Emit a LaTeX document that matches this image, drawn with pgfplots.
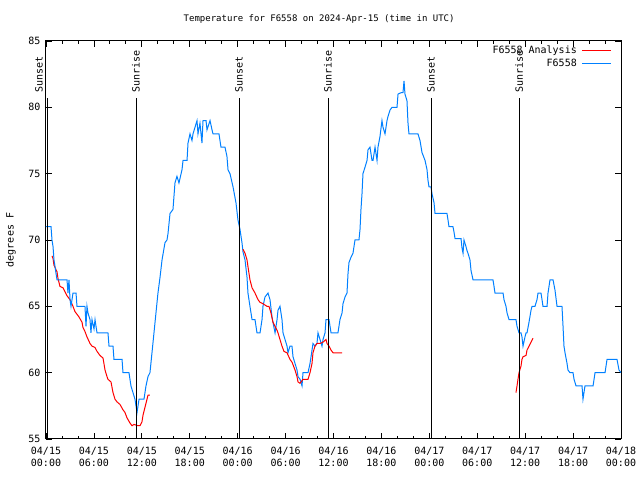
\documentclass[border=0pt]{standalone}
\usepackage{pgfplots}
\pgfplotsset{compat=1.18}
\usepackage{fontspec}
\setmainfont{DejaVu Sans Mono}
\definecolor{gpred}{RGB}{255,0,0}
\definecolor{gpblue}{RGB}{0,128,255}
\begin{document}
\begin{tikzpicture}
\useasboundingbox (-46bp,-41bp) rectangle (594bp,439bp);
\begin{axis}[
  at={(0,0)}, anchor=south west,
  width=575bp, height=398bp, scale only axis,
  clip mode=individual,
  xmin=0, xmax=72, ymin=55, ymax=85,
  xtick={0,6,...,72},
  xticklabels={{04/15\\00:00},{04/15\\06:00},{04/15\\12:00},{04/15\\18:00},{04/16\\00:00},{04/16\\06:00},{04/16\\12:00},{04/16\\18:00},{04/17\\00:00},{04/17\\06:00},{04/17\\12:00},{04/17\\18:00},{04/18\\00:00}},
  minor x tick num=2,
  ytick={55,60,...,85},
  tick align=inside,
  major tick length=6bp, minor tick length=3bp,
  xtick pos=both, ytick pos=both,
  axis line style={black, line width=1bp},
  every tick/.style={black, line width=0.8bp},
  /pgf/number format/assume math mode=true,
  tick label style={font=\fontsize{10bp}{12bp}\selectfont},
  xticklabel style={align=center, yshift=-5bp},
  yticklabel style={xshift=-2bp},
  title={Temperature for F6558 on 2024-Apr-15 (time in UTC)},
  title style={font=\fontsize{9bp}{11bp}\selectfont, at={(axis description cs:0.475,1)}, yshift=8bp},
  ylabel={degrees F},
  ylabel style={font=\fontsize{10bp}{12bp}\selectfont, at={(axis description cs:-0.061,0.5)}, anchor=center},
  legend style={draw=none, fill=none, at={(rel axis cs:1,1)}, anchor=north east, xshift=-8bp, yshift=-2bp, font=\fontsize{10bp}{12bp}\selectfont, row sep=0bp, column sep=3bp, inner sep=1bp},
  legend cell align=right,
  legend plot pos=right,
  legend image code/.code={\draw[#1] (0bp,0bp) -- (29bp,0bp);},
]
% Analysis (red), three segments
\addplot[gpred, line width=1bp] coordinates {
(0.75,68.8) (0.88,68.6) (1.00,68.1) (1.38,67.6) (1.50,67.1) (1.75,66.5) (2.13,66.4) (2.63,65.8) (3.01,65.5) (3.38,65) (3.63,64.6) (3.88,64.4) (4.13,64.2) (4.51,63.8) (4.63,63.4) (4.88,63.1) (5.13,62.7) (5.51,62.2) (5.76,62) (6.14,61.9) (6.39,61.6) (6.76,61.3) (7.14,61.1) (7.39,60.2) (7.64,59.7) (7.76,59.5) (8.14,59.3) (8.39,58.5) (8.64,58) (8.89,57.8) (9.27,57.6) (9.64,57.2) (9.89,57) (10.14,56.6) (10.52,56.2) (10.77,56) (11.02,56.1) (11.52,56) (11.77,56) (12.02,56.3) (12.15,56.8) (12.40,57.4) (12.65,58) (12.77,58.3) (13.02,58.3)
};
\addlegendentry{F6558 Analysis}
\addplot[gpblue, line width=1bp] coordinates {
(0,71) (0.63,71) (0.75,70) (0.88,69.5) (1.00,68.5) (1.13,68) (1.25,67.5) (1.38,67) (2.63,67) (2.75,66) (2.88,67) (3.01,65.5) (3.13,65) (3.38,66) (3.76,66) (3.88,65) (4.88,65) (5.01,63.5) (5.13,65) (5.26,64.5) (5.51,64) (5.63,63) (5.76,64) (6.01,63.3) (6.14,64) (6.26,63.5) (6.39,63) (7.76,63) (7.89,62) (8.39,62) (8.51,61) (9.52,61) (9.64,60) (10.39,60) (10.64,59) (10.89,58.5) (11.14,58) (11.40,57) (11.65,58) (12.27,58) (12.52,59) (12.77,59.7) (13.02,60) (13.27,61.5) (13.52,63) (13.77,64.5) (14.02,66) (14.28,67.2) (14.53,68.5) (14.90,69.8) (15.15,70) (15.28,70.5) (15.53,72) (15.90,72.3) (16.15,74.3) (16.40,74.8) (16.65,74.3) (17.03,75.3) (17.16,76) (17.66,76) (17.78,77.3) (18.03,78) (18.28,77.5) (18.41,78) (18.66,78.5) (18.91,79) (19.03,78) (19.28,78.8) (19.53,77.3) (19.66,79) (20.04,79) (20.16,78.3) (20.54,79) (20.79,78.3) (20.91,78) (21.66,78) (21.91,77) (22.41,77) (22.66,76.3) (22.79,75.3) (23.04,75) (23.42,74) (23.79,72.8) (24.04,71.5) (24.29,70.8) (24.54,69.8) (24.67,69.1) (24.92,68.5) (25.17,67.2) (25.29,66) (25.54,65) (25.80,64) (26.17,64) (26.42,63) (26.80,63) (27.05,64) (27.17,65) (27.42,65.7) (27.80,66) (28.05,65.5) (28.30,64.2) (28.42,63.8) (28.68,63) (28.93,64) (29.05,64.7) (29.30,65) (29.55,64) (29.68,63) (29.93,62.5) (30.18,62) (30.30,61.5) (30.55,62) (30.80,62) (30.93,61.2) (31.18,60.7) (31.43,60.2) (31.56,59.7) (31.81,59.5) (32.06,59) (32.18,60) (32.81,60) (33.06,60.7) (33.31,61.7) (33.43,62.2) (33.68,62) (33.93,62.2) (34.06,63) (34.31,62.5) (34.56,62) (34.69,62.5) (34.94,63) (35.06,64) (35.44,64) (35.69,63) (36.56,63) (36.81,64) (37.07,64.5) (37.19,65.2) (37.44,65.7) (37.69,66) (37.82,67.5) (37.94,68.3) (38.19,68.7) (38.44,69) (38.69,70) (39.19,70) (39.32,70.8) (39.44,72.3) (39.57,73.5) (39.69,75) (39.95,75.5) (40.20,76) (40.32,76.8) (40.57,77) (40.82,76) (40.95,76) (41.20,77) (41.45,76) (41.57,77) (41.82,77.8) (42.07,79) (42.20,78.5) (42.45,78) (42.70,79) (42.82,79.3) (43.08,79.8) (43.33,80) (43.95,80) (44.08,81) (44.45,81.1) (44.70,81.1) (44.83,82) (44.95,81) (45.20,80.5) (45.33,78.8) (45.45,78) (46.58,78) (46.83,77.5) (47.08,76.6) (47.46,76) (47.71,75.3) (47.83,74.5) (47.96,74) (48.21,74) (48.33,73.5) (48.59,72.8) (48.71,72) (50.21,72) (50.34,71.5) (50.46,71) (50.96,71) (51.09,70.6) (51.22,70.1) (51.97,70.1) (52.09,69.4) (52.22,69) (52.34,70) (52.59,69.5) (52.72,69.2) (52.84,69) (53.09,68.5) (53.22,67.7) (53.47,67) (55.97,67) (56.10,66.5) (56.22,66) (57.23,66) (57.35,65.5) (57.60,65) (57.73,64.5) (57.98,64) (58.85,64) (58.98,63.5) (59.23,63) (59.48,63) (59.60,62.7) (59.73,62) (59.98,62.7) (60.11,63) (60.23,63) (60.48,63.8) (60.73,64.7) (60.86,65) (61.23,65) (61.48,65.5) (61.61,66) (61.98,66) (62.11,65.5) (62.23,65) (62.74,65) (62.86,66) (63.11,67) (63.49,67) (63.74,66.2) (63.99,65) (64.61,65) (64.74,63.5) (64.86,62) (64.99,61.5) (65.24,60.7) (65.36,60.2) (65.61,60) (65.99,60) (66.12,59.5) (66.37,59) (67.12,59) (67.24,58) (67.49,59) (68.50,59) (68.75,60) (70.00,60) (70.25,61) (71.50,61) (71.75,60.2) (72.00,60)
};
\addlegendentry{F6558}
\addplot[gpred, line width=1bp, forget plot] coordinates {
(24.67,69.3) (24.92,69) (25.17,68.5) (25.29,68) (25.54,67) (25.80,66.4) (26.17,66) (26.55,65.5) (26.80,65.3) (27.17,65.2) (27.67,65) (27.92,65) (28.17,64.5) (28.42,63.8) (28.93,63.2) (29.05,63) (29.30,62.5) (29.55,62) (29.80,61.6) (30.18,61.5) (30.55,61) (30.80,60.8) (30.93,60.6) (31.18,60.2) (31.43,59.7) (31.56,59.3) (31.81,59.2) (32.18,59.5) (32.81,59.5) (33.06,60) (33.31,60.7) (33.43,61.5) (33.68,62) (33.93,62.2) (34.31,62.2) (34.69,62.3) (35.06,62.5) (35.19,62.2) (35.44,62) (35.69,61.7) (35.94,61.5) (37.07,61.5)
};
\addplot[gpred, line width=1bp, forget plot] coordinates {
(58.85,58.5) (58.98,59) (59.10,59.5) (59.23,60) (59.48,60.5) (59.60,61) (59.73,61.2) (60.11,61.3) (60.23,61.7) (60.48,62) (60.73,62.3) (60.98,62.6)
};
% Sunrise / sunset markers
\addplot[black, line width=0.9bp, forget plot] coordinates {(0.13,55) (0.13,80.7)};
\addplot[black, line width=0.9bp, forget plot] coordinates {(11.27,55) (11.27,80.7)};
\addplot[black, line width=0.9bp, forget plot] coordinates {(24.17,55) (24.17,80.7)};
\addplot[black, line width=0.9bp, forget plot] coordinates {(35.31,55) (35.31,80.7)};
\addplot[black, line width=0.9bp, forget plot] coordinates {(48.21,55) (48.21,80.7)};
\addplot[black, line width=0.9bp, forget plot] coordinates {(59.23,55) (59.23,80.7)};
\begin{scope}[every node/.style={rotate=90, anchor=west, inner sep=0pt, font=\fontsize{10bp}{12bp}\selectfont}]
\node at ([xshift=-8bp]axis cs:0.13,81.1) {Sunset};
\node at (axis cs:11.27,81.1) {Sunrise};
\node at (axis cs:24.17,81.1) {Sunset};
\node at (axis cs:35.31,81.1) {Sunrise};
\node at (axis cs:48.21,81.1) {Sunset};
\node at (axis cs:59.23,81.1) {Sunrise};
\end{scope}
\end{axis}
\end{tikzpicture}
\end{document}
